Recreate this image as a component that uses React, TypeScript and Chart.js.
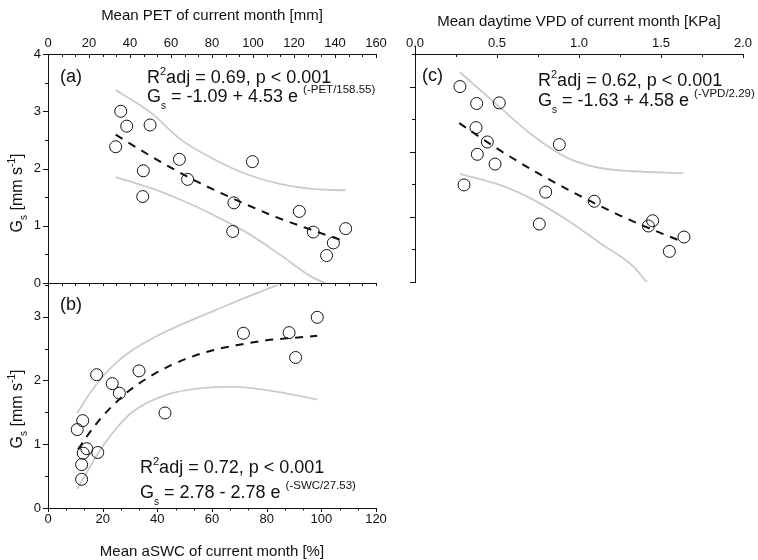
import React, { useEffect, useRef } from "react";
import { Chart, registerables } from "chart.js";

Chart.register(...registerables);

// ---------------- Panel (a): Gs vs mean PET ----------------
const petX = [35.5, 38.4, 49.8, 33.0, 64.1, 46.5, 68.1, 46.2, 99.7, 90.7, 90.1, 122.6, 129.4, 145.2, 139.2, 135.9];
const petGs = [3.0, 2.74, 2.76, 2.38, 2.16, 1.96, 1.81, 1.51, 2.12, 1.4, 0.9, 1.25, 0.89, 0.95, 0.7, 0.48];
const petFitX = [33, 50, 70, 90, 110, 130, 143];
const petFitGs = [2.59, 2.22, 1.82, 1.48, 1.17, 0.91, 0.75];
const petUpperX = [33, 50, 65, 80, 97, 113, 130, 145];
const petUpperGs = [3.37, 2.98, 2.5, 2.18, 1.9, 1.73, 1.64, 1.62];
const petLowerX = [33, 50, 65, 80, 97, 113, 128, 140, 146];
const petLowerGs = [1.85, 1.66, 1.45, 1.2, 0.88, 0.5, 0.12, -0.08, -0.2];
const petTickLabels = [0, 20, 40, 60, 80, 100, 120, 140, 160];
const gsTickLabelsA = [0, 1, 2, 3, 4];

// ---------------- Panel (b): Gs vs mean aSWC ----------------
const swcX = [98.5, 71.5, 88.2, 90.6, 33.3, 17.8, 23.5, 26.1, 42.8, 12.7, 10.7, 14.2, 18.2, 12.9, 12.3, 12.3];
const swcGs = [2.99, 2.74, 2.75, 2.36, 2.15, 2.09, 1.95, 1.8, 1.49, 1.37, 1.23, 0.93, 0.87, 0.86, 0.68, 0.45];
const swcFitX = [11, 15, 20, 25, 30, 40, 50, 60, 70, 80, 90, 98.5];
const swcFitGs = [0.92, 1.17, 1.44, 1.66, 1.85, 2.13, 2.33, 2.47, 2.56, 2.63, 2.67, 2.7];
const swcUpperX = [10.7, 15, 20, 25, 30, 40, 50, 60, 70, 84, 98.5];
const swcUpperGs = [1.49, 1.78, 2.06, 2.28, 2.45, 2.7, 2.9, 3.08, 3.26, 3.5, 3.74];
const swcLowerX = [10.7, 15, 19, 25, 31, 43, 56, 68, 80, 98.5];
const swcLowerGs = [0.3, 0.62, 0.9, 1.25, 1.51, 1.77, 1.88, 1.9, 1.85, 1.7];
const swcTickLabels = [0, 20, 40, 60, 80, 100, 120];
const gsTickLabelsB = [0, 1, 2, 3];

// ---------------- Panel (c): Gs vs mean daytime VPD ----------------
const vpdX = [0.274, 0.376, 0.514, 0.372, 0.441, 0.88, 0.38, 0.488, 0.299, 0.797, 1.093, 0.758, 1.449, 1.423, 1.64, 1.551];
const vpdGs = [3.0, 2.74, 2.75, 2.37, 2.15, 2.11, 1.96, 1.81, 1.49, 1.38, 1.24, 0.89, 0.94, 0.86, 0.69, 0.47];
const vpdFitX = [0.27, 0.5, 0.75, 1.0, 1.25, 1.5, 1.64];
const vpdFitGs = [2.44, 2.05, 1.67, 1.33, 1.02, 0.75, 0.61];
const vpdUpperX = [0.274, 0.518, 0.722, 0.925, 1.128, 1.331, 1.636];
const vpdUpperGs = [3.22, 2.68, 2.24, 1.91, 1.75, 1.7, 1.67];
const vpdLowerX = [0.274, 0.518, 0.722, 0.925, 1.128, 1.331, 1.413, 1.5];
const vpdLowerGs = [1.66, 1.49, 1.26, 0.955, 0.6, 0.24, 0.0, -0.16];
const vpdTickLabels = [0, 0.5, 1.0, 1.5, 2.0];

// ---------------- styling helpers ----------------
const FONT = '"Liberation Sans", Arial, Helvetica, sans-serif';
const INK = "#111111";
const BAND = "#cbcbcb";

type Part = { t: string; size: number; dy?: number };
type Label = { parts: Part[]; x: number; y: number; rotate?: boolean; center?: boolean };
type TickSpec = { id: string; majors: number[]; dir: number; majorLen: number; minorLen: number };

const pts = (xs: number[], ys: number[]) => xs.map((x, i) => ({ x, y: ys[i] }));

function buildTicks(majors: number[], minorPer: number, max: number): number[] {
  const out: number[] = [];
  for (let i = 0; i < majors.length; i++) {
    out.push(majors[i]);
    if (i < majors.length - 1) {
      const step = (majors[i + 1] - majors[i]) / (minorPer + 1);
      for (let k = 1; k <= minorPer; k++) out.push(majors[i] + k * step);
    }
  }
  const step = (majors[1] - majors[0]) / (minorPer + 1);
  let v = majors[majors.length - 1] + step;
  while (v <= max + 1e-9) {
    out.push(v);
    v += step;
  }
  return out;
}

function axis(o: {
  position: string;
  min: number;
  max: number;
  majors: number[];
  minorPer: number;
  decimals: number;
  labels: boolean;
  size: number;
  pad: number;
}) {
  const list = buildTicks(o.majors, o.minorPer, o.max);
  const horizontal = o.position === "top" || o.position === "bottom";
  return {
    type: "linear",
    axis: horizontal ? "x" : "y",
    position: o.position,
    min: o.min,
    max: o.max,
    grid: { display: false, drawTicks: false },
    border: { display: true, color: INK, width: 1 },
    ticks: {
      display: o.labels,
      autoSkip: false,
      maxRotation: 0,
      minRotation: 0,
      padding: o.pad,
      color: INK,
      font: { family: FONT, size: 13 },
      callback: (v: any) => {
        const m = o.majors.find((mv) => Math.abs(mv - Number(v)) < 1e-6);
        return m === undefined ? "" : m.toFixed(o.decimals);
      },
    },
    afterBuildTicks: (s: any) => {
      s.ticks = list.map((value) => ({ value }));
    },
    afterFit: (s: any) => {
      if (horizontal) s.height = o.size;
      else s.width = o.size;
    },
  };
}

function measureParts(ctx: CanvasRenderingContext2D, parts: Part[]) {
  let w = 0;
  for (const p of parts) {
    ctx.font = `${p.size}px ${FONT}`;
    w += ctx.measureText(p.t).width;
  }
  return w;
}

function drawParts(ctx: CanvasRenderingContext2D, parts: Part[], x: number, y: number) {
  let cx = x;
  for (const p of parts) {
    ctx.font = `${p.size}px ${FONT}`;
    ctx.fillText(p.t, cx, y + (p.dy || 0));
    cx += ctx.measureText(p.t).width;
  }
}

function overlay(specs: TickSpec[], labels: Label[], upExtend = 0) {
  return {
    id: "overlay",
    afterDraw(chart: any) {
      const ctx: CanvasRenderingContext2D = chart.ctx;
      ctx.save();
      ctx.strokeStyle = INK;
      ctx.lineWidth = 1;
      for (const spec of specs) {
        const s = chart.scales[spec.id];
        if (!s) continue;
        for (const t of s.ticks) {
          const major = spec.majors.some((m) => Math.abs(m - t.value) < 1e-6);
          const len = major ? spec.majorLen : spec.minorLen;
          const pix = Math.round(s.getPixelForValue(t.value)) + 0.5;
          ctx.beginPath();
          if (s.isHorizontal()) {
            const y0 = s.position === "top" ? s.bottom : s.top;
            ctx.moveTo(pix, y0);
            ctx.lineTo(pix, y0 + spec.dir * len);
          } else {
            const x0 = s.right;
            ctx.moveTo(x0, pix);
            ctx.lineTo(x0 + spec.dir * len, pix);
          }
          ctx.stroke();
        }
      }
      if (upExtend) {
        const a = chart.chartArea;
        ctx.beginPath();
        ctx.moveTo(a.left + 0.5, a.top - upExtend);
        ctx.lineTo(a.left + 0.5, a.top);
        ctx.stroke();
      }
      ctx.fillStyle = INK;
      ctx.textBaseline = "alphabetic";
      ctx.textAlign = "left";
      for (const lb of labels) {
        const w = measureParts(ctx, lb.parts);
        if (lb.rotate) {
          ctx.save();
          ctx.translate(lb.x, lb.y);
          ctx.rotate(-Math.PI / 2);
          drawParts(ctx, lb.parts, -w / 2, 0);
          ctx.restore();
        } else {
          drawParts(ctx, lb.parts, lb.center ? lb.x - w / 2 : lb.x, lb.y);
        }
      }
      ctx.restore();
    },
  };
}

const scatterSet = (xs: number[], ys: number[], xAxisID = "x") => ({
  data: pts(xs, ys),
  xAxisID,
  showLine: false,
  pointStyle: "circle",
  pointRadius: 6,
  pointHoverRadius: 6,
  borderWidth: 1,
  borderColor: INK,
  backgroundColor: "rgba(0,0,0,0)",
});

const fitSet = (xs: number[], ys: number[], xAxisID = "x") => ({
  data: pts(xs, ys),
  xAxisID,
  showLine: true,
  pointRadius: 0,
  borderColor: INK,
  borderWidth: 2,
  borderDash: [8, 7],
  cubicInterpolationMode: "monotone",
  fill: false,
});

const bandSet = (xs: number[], ys: number[], xAxisID = "x") => ({
  data: pts(xs, ys),
  xAxisID,
  showLine: true,
  pointRadius: 0,
  borderColor: BAND,
  borderWidth: 1.8,
  cubicInterpolationMode: "monotone",
  fill: false,
});

const yTitle: Part[] = [
  { t: "G", size: 16 },
  { t: "s", size: 10, dy: 5 },
  { t: " [mm s", size: 16 },
  { t: "-1", size: 10, dy: -7 },
  { t: "]", size: 16 },
];

function rLine(txt: string, x: number, y: number): Label {
  return {
    parts: [
      { t: "R", size: 18 },
      { t: "2", size: 11, dy: -8 },
      { t: txt, size: 18 },
    ],
    x,
    y,
  };
}

function gLine(body: string, expo: string, x: number, y: number): Label {
  return {
    parts: [
      { t: "G", size: 18 },
      { t: "s", size: 10, dy: 7 },
      { t: body, size: 18 },
      { t: expo, size: 11.5, dy: -9 },
    ],
    x,
    y,
  };
}

function baseOptions(padding: any, scales: any) {
  return {
    responsive: false,
    maintainAspectRatio: false,
    animation: false as const,
    devicePixelRatio: 1,
    events: [],
    layout: { padding },
    plugins: { legend: { display: false }, tooltip: { enabled: false } },
    scales,
  };
}

export default function App() {
  const aRef = useRef<HTMLCanvasElement>(null);
  const bRef = useRef<HTMLCanvasElement>(null);
  const cRef = useRef<HTMLCanvasElement>(null);

  useEffect(() => {
    const charts: Chart[] = [];

    // Panel (a)
    charts.push(
      new Chart(aRef.current as HTMLCanvasElement, {
        type: "scatter",
        data: {
          datasets: [
            scatterSet(petX, petGs),
            fitSet(petFitX, petFitGs),
            bandSet(petUpperX, petUpperGs),
            bandSet(petLowerX, petLowerGs),
          ] as any,
        },
        options: baseOptions(
          { left: 0, top: 0, right: 24, bottom: 0 },
          {
            x: axis({ position: "top", min: 0, max: 160, majors: petTickLabels, minorPer: 2, decimals: 0, labels: true, size: 54, pad: 3 }),
            xb: axis({ position: "bottom", min: 0, max: 160, majors: petTickLabels, minorPer: 2, decimals: 0, labels: false, size: 17, pad: 0 }),
            y: axis({ position: "left", min: 0, max: 4, majors: gsTickLabelsA, minorPer: 1, decimals: 0, labels: true, size: 48, pad: 7 }),
          }
        ) as any,
        plugins: [
          overlay(
            [
              { id: "x", majors: petTickLabels, dir: 1, majorLen: 4, minorLen: 3 },
              { id: "xb", majors: petTickLabels, dir: 1, majorLen: 3, minorLen: 3 },
              { id: "y", majors: gsTickLabelsA, dir: -1, majorLen: 5, minorLen: 3 },
            ],
            [
              { parts: [{ t: "Mean PET of current month [mm]", size: 15 }], x: 212, y: 20, center: true },
              { parts: yTitle, x: 22, y: 193, rotate: true },
              { parts: [{ t: "(a)", size: 18 }], x: 60, y: 82 },
              rLine("adj = 0.69, p < 0.001", 147, 83),
              gLine(" = -1.09 + 4.53 e ", "(-PET/158.55)", 147, 102),
            ]
          ),
        ],
      })
    );

    // Panel (b)
    charts.push(
      new Chart(bRef.current as HTMLCanvasElement, {
        type: "scatter",
        data: {
          datasets: [
            scatterSet(swcX, swcGs),
            fitSet(swcFitX, swcFitGs),
            bandSet(swcUpperX, swcUpperGs),
            bandSet(swcLowerX, swcLowerGs),
          ] as any,
        },
        options: baseOptions(
          { left: 0, top: 13, right: 24, bottom: 0 },
          {
            x: axis({ position: "bottom", min: 0, max: 120, majors: swcTickLabels, minorPer: 2, decimals: 0, labels: true, size: 52, pad: 4 }),
            y: axis({ position: "left", min: 0, max: 3.5, majors: gsTickLabelsB, minorPer: 1, decimals: 0, labels: true, size: 48, pad: 7 }),
          }
        ) as any,
        plugins: [
          overlay(
            [
              { id: "x", majors: swcTickLabels, dir: 1, majorLen: 4, minorLen: 2.5 },
              { id: "y", majors: gsTickLabelsB, dir: -1, majorLen: 5, minorLen: 3 },
            ],
            [
              { parts: [{ t: "Mean aSWC of current month [%]", size: 15 }], x: 212, y: 286, center: true },
              { parts: yTitle, x: 22, y: 139, rotate: true },
              { parts: [{ t: "(b)", size: 18 }], x: 60, y: 40 },
              rLine("adj = 0.72, p < 0.001", 140, 203),
              gLine(" = 2.78 - 2.78 e ", "(-SWC/27.53)", 140, 228),
            ]
          ),
        ],
      })
    );

    // Panel (c)
    charts.push(
      new Chart(cRef.current as HTMLCanvasElement, {
        type: "scatter",
        data: {
          datasets: [
            scatterSet(vpdX, vpdGs),
            fitSet(vpdFitX, vpdFitGs),
            bandSet(vpdUpperX, vpdUpperGs),
            bandSet(vpdLowerX, vpdLowerGs),
          ] as any,
        },
        options: baseOptions(
          { left: 0, top: 0, right: 15, bottom: 18 },
          {
            x: axis({ position: "top", min: 0, max: 2, majors: vpdTickLabels, minorPer: 1, decimals: 1, labels: true, size: 54, pad: 3 }),
            y: axis({ position: "left", min: 0, max: 3.5, majors: gsTickLabelsB, minorPer: 1, decimals: 0, labels: false, size: 15, pad: 0 }),
          }
        ) as any,
        plugins: [
          overlay(
            [
              { id: "x", majors: vpdTickLabels, dir: 1, majorLen: 4, minorLen: 3 },
              { id: "y", majors: gsTickLabelsB, dir: -1, majorLen: 5, minorLen: 3 },
            ],
            [
              { parts: [{ t: "Mean daytime VPD of current month [KPa]", size: 15 }], x: 179, y: 26, center: true },
              { parts: [{ t: "(c)", size: 18 }], x: 22, y: 81 },
              rLine("adj = 0.62, p < 0.001", 138, 86),
              gLine(" = -1.63 + 4.58 e ", "(-VPD/2.29)", 138, 106),
            ],
            8
          ),
        ],
      })
    );

    return () => charts.forEach((c) => c.destroy());
  }, []);

  return (
    <div
      style={{
        position: "fixed",
        left: 0,
        top: 0,
        width: 758,
        height: 560,
        background: "#ffffff",
        overflow: "hidden",
      }}
    >
      <canvas ref={aRef} width={400} height={300} style={{ position: "absolute", left: 0, top: 0, width: 400, height: 300 }} />
      <canvas ref={bRef} width={400} height={290} style={{ position: "absolute", left: 0, top: 270, width: 400, height: 290 }} />
      <canvas ref={cRef} width={358} height={300} style={{ position: "absolute", left: 400, top: 0, width: 358, height: 300 }} />
    </div>
  );
}
